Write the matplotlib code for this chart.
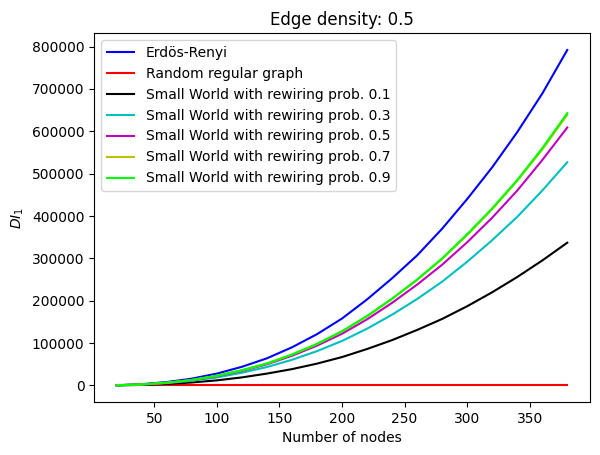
import numpy as np
import matplotlib
matplotlib.use('Agg')
import matplotlib.pyplot as plt

plt.style.use('default')

nodes = list(range(20, 381, 20))

erdos_renyi = [500, 3000, 8000, 16000, 28000, 44000, 64000, 90000, 121000, 158000,
               203000, 253000, 307000, 370000, 440000, 515000, 598000, 689000, 792000]
random_regular = [0] * len(nodes)
sw_01 = [200, 1300, 3500, 7000, 12000, 19000, 28000, 38500, 51500, 67000,
         86000, 107000, 131000, 157000, 187000, 220000, 256000, 295000, 337000]
sw_03 = [350, 2000, 5400, 11000, 19000, 30000, 43500, 60500, 81000, 105000,
         134000, 167000, 204000, 245000, 292000, 343000, 398000, 460000, 527000]
sw_05 = [400, 2300, 6200, 12500, 22000, 34500, 50000, 70000, 94000, 122000,
         156000, 195000, 238000, 285000, 338000, 396000, 460000, 532000, 609000]
sw_07 = [400, 2380, 6450, 12900, 22800, 35800, 51700, 72600, 97500, 127300,
         163000, 204000, 249000, 298500, 355000, 416000, 483000, 557000, 639000]
sw_09 = [400, 2400, 6500, 13000, 23000, 36000, 52000, 73000, 98000, 128000,
         164000, 205000, 250000, 300000, 357000, 418000, 485000, 560000, 643000]

fig, ax = plt.subplots(figsize=(6, 4.55), dpi=100)
fig.subplots_adjust(left=0.157, right=0.983, top=0.927, bottom=0.116)

ax.plot(nodes, erdos_renyi, color='b', label='Erdös-Renyi')
ax.plot(nodes, random_regular, color='r', label='Random regular graph')
ax.plot(nodes, sw_01, color='k', label='Small World with rewiring prob. 0.1')
ax.plot(nodes, sw_03, color='c', label='Small World with rewiring prob. 0.3')
ax.plot(nodes, sw_05, color='m', label='Small World with rewiring prob. 0.5')
ax.plot(nodes, sw_07, color='y', label='Small World with rewiring prob. 0.7')
ax.plot(nodes, sw_09, color='lime', label='Small World with rewiring prob. 0.9')

ax.set_title('Edge density: 0.5')
ax.set_xlabel('Number of nodes')
ax.set_ylabel('$DI_1$')
ax.legend(loc='upper left')

fig.savefig('out.png', dpi=100)
